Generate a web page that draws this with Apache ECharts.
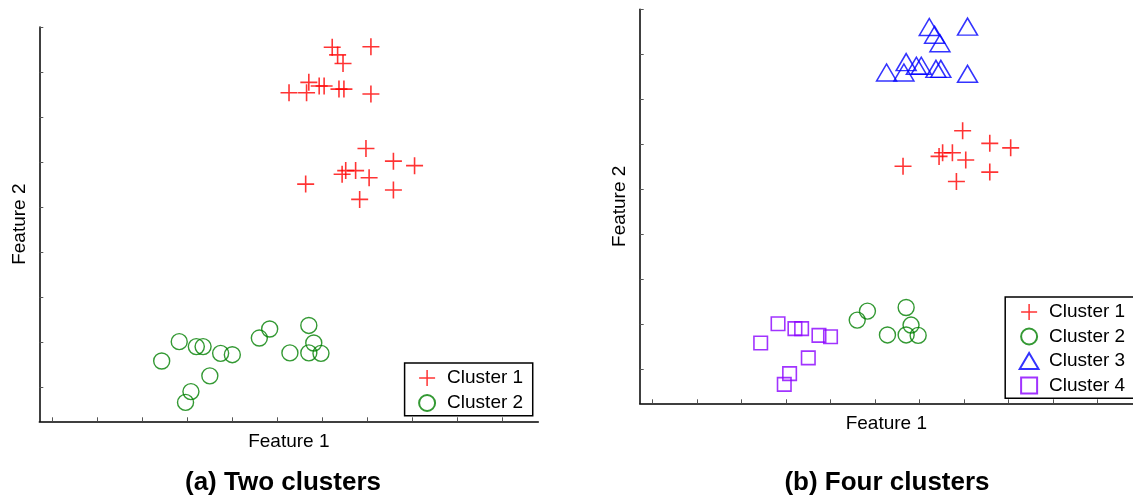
<!DOCTYPE html>
<html>
<head>
<meta charset="utf-8">
<script src="https://cdn.jsdelivr.net/npm/echarts@6/dist/echarts.min.js"></script>
<style>
  html, body { margin: 0; padding: 0; background: #ffffff; }
  #chart { width: 1133px; height: 500px; }
</style>
</head>
<body>
<div id="chart"></div>
<script>
// Feature 1 / Feature 2 coordinates of each group of samples
const c1Points = [
  [6.97, 5.30], [7.58, 5.02], [8.05, 4.92], [6.52, 4.81], [6.44, 4.73],
  [6.74, 4.81], [7.04, 4.65], [5.63, 4.51], [7.58, 4.38], [6.83, 4.17]
];
const c3Points = [
  [6.22, 7.55], [6.34, 7.38], [6.46, 7.19], [7.08, 7.56], [5.70, 6.77],
  [5.93, 6.69], [6.04, 6.69], [5.26, 6.54], [5.65, 6.54], [6.37, 6.62],
  [6.48, 6.62], [7.08, 6.51]
];
const c2Points = [
  [4.60, 1.09], [4.83, 1.29], [5.70, 1.37], [5.28, 0.76], [5.81, 0.98],
  [5.70, 0.76], [5.97, 0.75]
];
const c4Points = [
  [2.43, 0.58], [2.82, 1.01], [3.20, 0.90], [3.35, 0.90], [3.74, 0.75],
  [4.00, 0.72], [3.50, 0.25], [3.08, -0.10], [2.96, -0.34]
];

// Two-cluster view merges the groups pairwise
const twoClusterPoints = [c1Points.concat(c3Points), c2Points.concat(c4Points)];
const fourClusterPoints = [c1Points, c2Points, c3Points, c4Points];

const clusterNames = ['Cluster 1', 'Cluster 2', 'Cluster 3', 'Cluster 4'];
const panelTitles = ['(a) Two clusters', '(b) Four clusters'];
const axisNames = ['Feature 1', 'Feature 2'];
const xTicks = [0, 1, 2, 3, 4, 5, 6, 7, 8, 9, 10];
const yTicks = [0, 1, 2, 3, 4, 5, 6, 7, 8];

const FONT = '"Liberation Sans", Arial, sans-serif';
// outline markers as paths so the legend keeps their proportions
const crossPath = 'path://M0,7.25h16v1.5h-16z M7.25,0h1.5v16h-1.5z';
const trianglePath = 'path://M10,0L20,17L0,17Z';
const squarePath = 'path://M0,0H14V14H0Z';

const markerStyles = [
  { symbol: crossPath, symbolSize: 17, itemStyle: { color: '#ff0000', borderWidth: 0 } },
  { symbol: 'circle', symbolSize: 16, itemStyle: { color: 'rgba(0,0,0,0)', borderColor: '#008000', borderWidth: 1.4 } },
  { symbol: trianglePath, symbolSize: [20, 17], symbolOffset: [0, -2.5], itemStyle: { color: 'rgba(0,0,0,0)', borderColor: '#0000ff', borderWidth: 1.5 } },
  { symbol: squarePath, symbolSize: 13.5, itemStyle: { color: 'rgba(0,0,0,0)', borderColor: '#8a00ff', borderWidth: 1.6 } }
];

function makeXAxis(gridIndex) {
  return {
    type: 'value', gridIndex: gridIndex, min: -0.29, max: 10.8,
    name: axisNames[0], nameLocation: 'middle', nameGap: 11,
    nameTextStyle: { fontFamily: FONT, fontSize: 19, color: '#000' },
    axisLine: { show: true, onZero: false, lineStyle: { color: '#000', width: 1.5 } },
    axisTick: { show: true, inside: true, length: 4, customValues: xTicks, lineStyle: { color: '#555', width: 1 } },
    axisLabel: { show: false },
    splitLine: { show: false }
  };
}
function makeYAxis(gridIndex) {
  return {
    type: 'value', gridIndex: gridIndex, min: -0.76, max: 8,
    name: axisNames[1], nameLocation: 'middle', nameGap: 10.5, nameRotate: 90,
    nameTextStyle: { fontFamily: FONT, fontSize: 19, color: '#000' },
    axisLine: { show: true, onZero: false, lineStyle: { color: '#000', width: 1.5 } },
    axisTick: { show: true, inside: true, length: 4, customValues: yTicks, lineStyle: { color: '#555', width: 1 } },
    axisLabel: { show: false },
    splitLine: { show: false }
  };
}

const series = [];
twoClusterPoints.forEach(function (pts, i) {
  series.push(Object.assign({
    type: 'scatter', name: clusterNames[i], xAxisIndex: 0, yAxisIndex: 0,
    data: pts, silent: true
  }, markerStyles[i]));
});
fourClusterPoints.forEach(function (pts, i) {
  series.push(Object.assign({
    type: 'scatter', name: clusterNames[i], xAxisIndex: 1, yAxisIndex: 1,
    data: pts, silent: true
  }, markerStyles[i]));
});

function makeLegend(names, left, top, gap) {
  return {
    data: names, orient: 'vertical', left: left, top: top, align: 'left',
    itemWidth: 30, itemHeight: 16, itemGap: gap,
    symbolKeepAspect: true,
    padding: [5, 9.6, 2.7, 13.5],
    backgroundColor: '#fff', borderColor: '#000', borderWidth: 1.5, borderRadius: 0,
    selectedMode: false,
    textStyle: { fontFamily: FONT, fontSize: 19, lineHeight: 20, color: '#000' }
  };
}

const option = {
  animation: false,
  backgroundColor: '#ffffff',
  grid: [
    { left: 39.3, top: 27, width: 499, height: 394.3, containLabel: false },
    { left: 639.7, top: 9.3, width: 499, height: 394, containLabel: false }
  ],
  xAxis: [makeXAxis(0), makeXAxis(1)],
  yAxis: [makeYAxis(0), makeYAxis(1)],
  legend: [
    makeLegend(clusterNames.slice(0, 2), 404.6, 363, 5),
    makeLegend(clusterNames, 1005.2, 297, 4.5)
  ],
  graphic: [
    { type: 'text', x: 283, y: 483, style: { text: panelTitles[0], font: 'bold 26px ' + FONT, fill: '#000', align: 'center', verticalAlign: 'middle' } },
    { type: 'text', x: 887, y: 483, style: { text: panelTitles[1], font: 'bold 26px ' + FONT, fill: '#000', align: 'center', verticalAlign: 'middle' } }
  ],
  series: series
};

const chart = echarts.init(document.getElementById('chart'));
chart.setOption(option);
</script>
</body>
</html>
